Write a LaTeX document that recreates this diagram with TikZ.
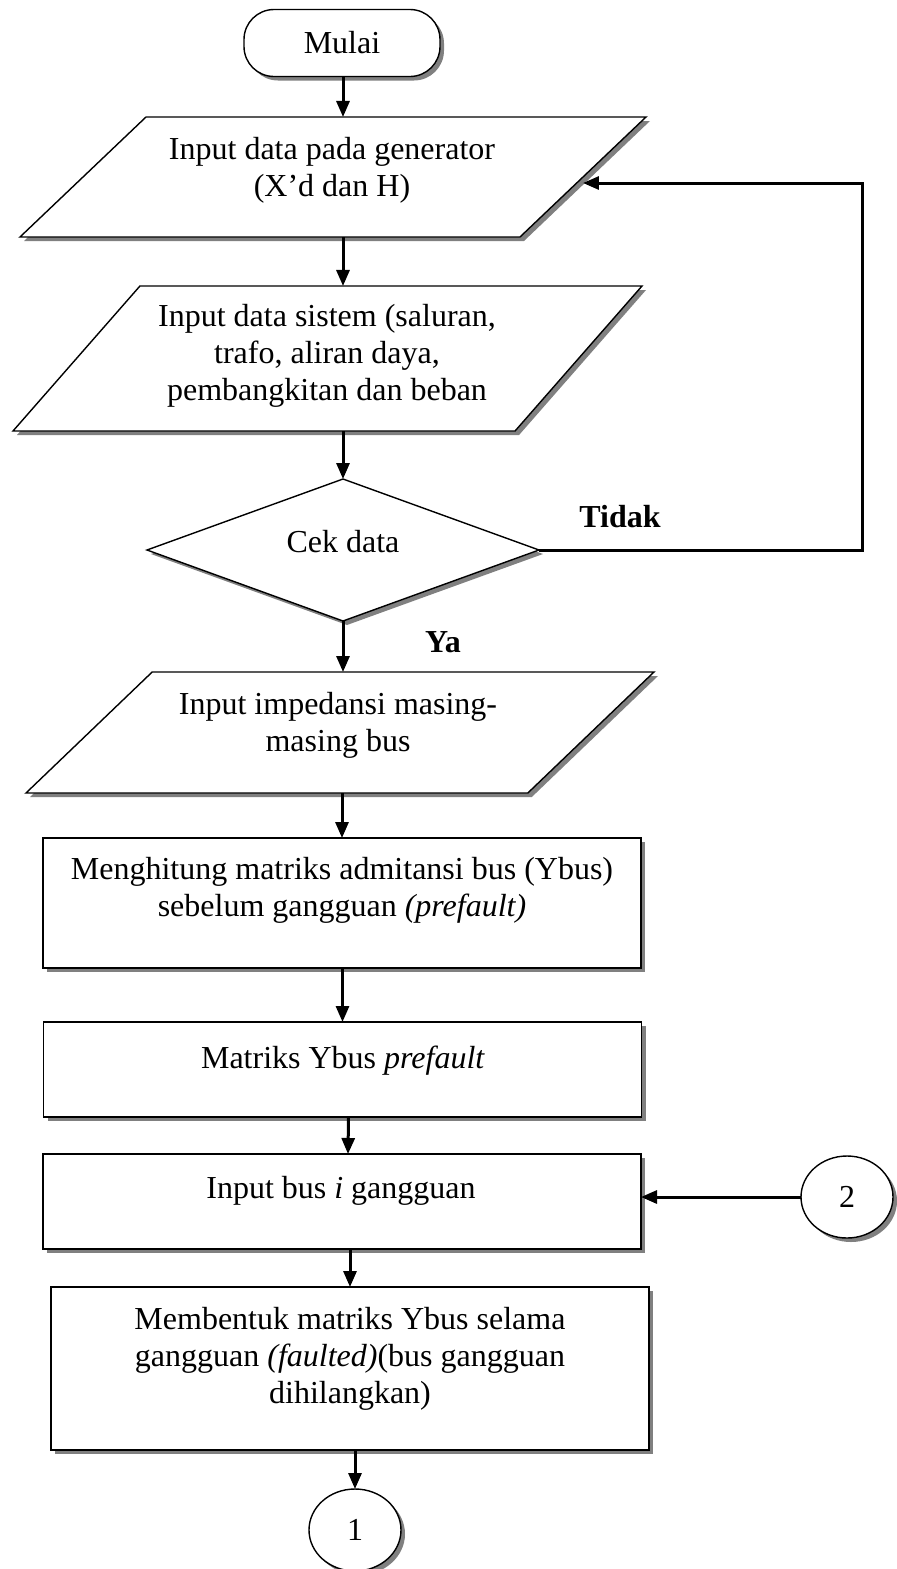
\documentclass[tikz,border=0pt]{standalone}
\usepackage{fontspec}
\setmainfont{Liberation Serif}
\usetikzlibrary{positioning,shapes.geometric,shadows,arrows.meta}
\definecolor{shadowgray}{RGB}{128,128,128}

\begin{document}
\begin{tikzpicture}[x=0.5pt, y=-0.5pt,
    every node/.style={font=\fontsize{16}{18.5}\selectfont, inner sep=0pt, outer sep=0pt},
    box/.style={draw, line width=0.7pt, fill=white,
      drop shadow={shadow xshift=2pt, shadow yshift=-2pt, fill=shadowgray, opacity=1}},
    terminal/.style={box, rectangle, rounded corners=15pt, minimum width=98pt, minimum height=33.5pt},
    io/.style={box, trapezium, trapezium stretches body, inner xsep=0pt},
    process/.style={box, rectangle, minimum width=299pt},
    decision/.style={box, diamond, minimum width=196pt, minimum height=71pt},
    connector/.style={box, ellipse, minimum width=46pt, minimum height=41pt},
    txt/.style={align=center, anchor=north},
    lbl/.style={font=\fontsize{16}{18.5}\selectfont\bfseries},
    arr/.style={-{Triangle[length=8pt, width=6.5pt]}, line width=1.5pt}]

  \path[use as bounding box, fill=white] (0,0) rectangle (897,1569);

  % bentuk-bentuk bagan alir
  \node[terminal] (start) at (342,43) {Mulai};
  \node[io, trapezium left angle=43.6, trapezium right angle=136.4,
        minimum width=313pt, inner ysep=30pt] (p1) at (333,177) {};
  \node[io, trapezium left angle=48.8, trapezium right angle=131.2,
        minimum width=314.5pt, inner ysep=36.25pt] (p2) at (327.5,358.5) {};
  \node[decision] (dec) at (343,550) {};
  \node[io, trapezium left angle=43.8, trapezium right angle=136.2,
        minimum width=314pt, inner ysep=30.25pt] (p3) at (340,732.5) {};
  \node[process, minimum height=65pt] (r1) at (342,903) {};
  \node[process, minimum height=47.5pt] (r2) at (342.5,1069.5) {};
  \node[process, minimum height=47.5pt] (r3) at (342,1201.5) {};
  \node[process, minimum height=81.5pt] (r4) at (350,1368.5) {};
  \node[connector] (c1) at (355,1530) {1};
  \node[connector] (c2) at (847,1197) {2};

  % teks di dalam kotak (rata atas)
  \node[txt] (t1) at (332,137) {Input data pada generator\\(X’d dan H)};
  \node[txt] (t2) at (327,304) {Input data sistem (saluran,\\trafo, aliran daya,\\pembangkitan dan beban};
  \node (tcek) at (343,542) {Cek data};
  \node[txt] (t3) at (338,692) {Input impedansi masing-\\masing bus};
  \node[txt] (t4) at (342,857) {Menghitung matriks admitansi bus (Ybus)\\sebelum gangguan \textit{(prefault)}};
  \node[txt] (t5) at (343,1046) {Matriks Ybus \textit{prefault}};
  \node[txt] (t6) at (341,1176) {Input bus \textit{i} gangguan};
  \node[txt] (t7) at (350,1307) {Membentuk matriks Ybus selama\\gangguan \textit{(faulted)}(bus gangguan\\dihilangkan)};
  \node[lbl] (tidak) at (620,517) {Tidak};
  \node[lbl] (ya) at (443,642) {Ya};

  % panah utama
  \foreach \a/\b in {start/p1, p1/p2, p2/dec, dec/p3}
    \draw[arr] (\a.south -| dec) -- (\b.north -| dec);
  \foreach \a/\b in {p3/r1, r1/r2, r3/r4, r4/c1}
    \draw[arr] (\a.south -| \b) -- (\b.north);
  \draw[arr] ([xshift=3pt]r2.south) -- ([xshift=3pt]r3.north);

  % jalur kembali (Tidak) dan konektor 2
  \coordinate (back) at (862,183);
  \draw[arr] (dec.east) -- (dec.east -| back) -- (back) -- (back -| p1.east);
  \draw[arr] (c2.west) -- (c2.west -| r3.east);
\end{tikzpicture}
\end{document}
